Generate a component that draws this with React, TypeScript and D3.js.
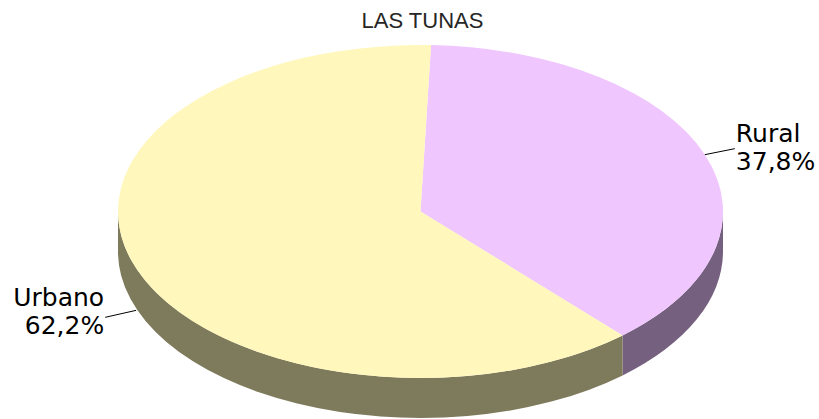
import * as d3 from "d3";

// chart data
const categories = ["Rural", "Urbano"];
const values = [37.8, 62.2];
const labels = ["37,8%", "62,2%"];
const title = "LAS TUNAS";

const topColors = ["#F0C6FE", "#FFF7BB"];
const sideColors = ["#76607F", "#7E7A5C"];

const W = 819;
const H = 419;
const CX = 420.5;
const CY = 211.5;
const RX = 302.5;
const RY = 166.5;
const DEPTH = 40;
const START = (2 * Math.PI) / 180; // pie starts just right of 12 o'clock

type Slice = d3.PieArcDatum<number>;

// point on the top ellipse for a parametric angle (clockwise from top)
const pt = (a: number, dy = 0) => [CX + RX * Math.sin(a), CY - RY * Math.cos(a) + dy];

// visible front wall of a slice (angles between 90 and 270 degrees)
function sidePath(d: Slice) {
  const a0 = Math.max(d.startAngle, Math.PI / 2);
  const a1 = Math.min(d.endAngle, (3 * Math.PI) / 2);
  if (a1 <= a0) return null;
  const [x0, y0] = pt(a0);
  const [x1, y1] = pt(a1);
  const big = a1 - a0 > Math.PI ? 1 : 0;
  return (
    `M${x0},${y0} A${RX},${RY} 0 ${big} 1 ${x1},${y1}` +
    ` L${x1},${y1 + DEPTH} A${RX},${RY} 0 ${big} 0 ${x0},${y0 + DEPTH} Z`
  );
}

export default function App() {
  const pie = d3
    .pie<number>()
    .sort(null)
    .startAngle(START)
    .endAngle(START + 2 * Math.PI);
  const arcs = pie(values);

  const arc = d3.arc<Slice>().innerRadius(0).outerRadius(RX);

  return (
    <svg
      width={W}
      height={H}
      style={{ position: "absolute", left: 0, top: 0, background: "#fff" }}
    >
      <text
        x={CX + 2}
        y={28}
        textAnchor="middle"
        fontFamily="Liberation Sans, Arial, sans-serif"
        fontSize={22}
        fill="#262626"
      >
        {title}
      </text>

      {/* walls first */}
      {arcs.map((d, i) => {
        const p = sidePath(d);
        return p ? <path key={"s" + i} d={p} fill={sideColors[i]} /> : null;
      })}

      {/* top faces */}
      <g transform={`translate(${CX},${CY}) scale(1,${RY / RX})`}>
        {arcs.map((d, i) => (
          <path key={"t" + i} d={arc(d) || ""} fill={topColors[i]} />
        ))}
      </g>

      {/* labels with leader lines */}
      {arcs.map((d, i) => {
        const mid = (d.startAngle + d.endAngle) / 2;
        const front = Math.cos(mid) < 0;
        const [ax, ay] = pt(mid, front ? DEPTH + 2 : 0);
        const right = Math.sin(mid) > 0;
        const ex = ax + (right ? 30 : -31);
        const ey = ay + (right ? -6 : 7);
        const tx = right ? ex + 1 : ex - 1;
        const b1 = right ? ey - 7 : ey - 11;
        return (
          <g key={"l" + i}>
            <line x1={ax} y1={ay} x2={ex} y2={ey} stroke="#000" strokeWidth={1} />
            <text
              fontFamily="DejaVu Sans, Verdana, sans-serif"
              fontSize={25}
              fill="#000"
              textAnchor={right ? "start" : "end"}
            >
              <tspan x={tx} y={b1}>
                {categories[i]}
              </tspan>
              <tspan x={tx} y={b1 + 28}>
                {labels[i]}
              </tspan>
            </text>
          </g>
        );
      })}
    </svg>
  );
}
